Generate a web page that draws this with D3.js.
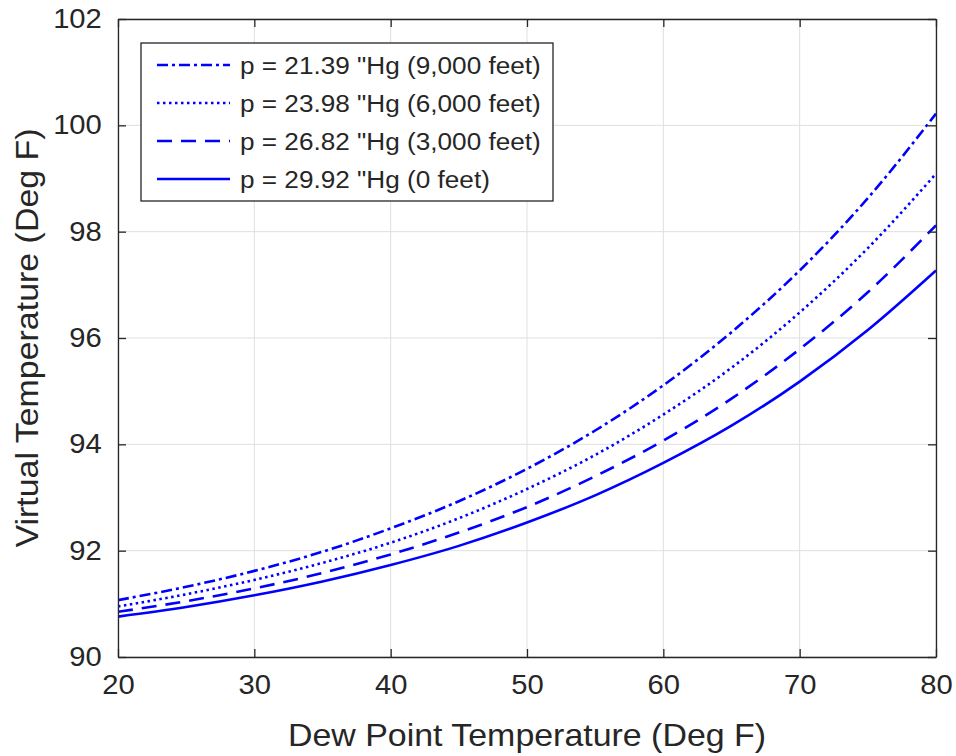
<!DOCTYPE html>
<html>
<head>
<meta charset="utf-8">
<script src="https://cdn.jsdelivr.net/npm/d3@7"></script>
<style>
  html, body { margin: 0; padding: 0; background: #ffffff; }
  svg { display: block; }
  text { font-family: "Liberation Sans", Arial, Helvetica, sans-serif; fill: #262626; }
</style>
</head>
<body>
<svg id="chart" width="956" height="756"></svg>
<script>
// ---- data ----
const dewPoint = [20, 25, 30, 35, 40, 45, 50, 55, 60, 65, 70, 75, 80];
const tv9000 = [91.07, 91.32, 91.62, 91.98, 92.42, 92.93, 93.54, 94.26, 95.11, 96.11, 97.27, 98.63, 100.22];
const tv6000 = [90.95, 91.18, 91.45, 91.77, 92.15, 92.61, 93.16, 93.80, 94.56, 95.44, 96.48, 97.69, 99.09];
const tv3000 = [90.85, 91.05, 91.29, 91.58, 91.93, 92.34, 92.82, 93.40, 94.07, 94.86, 95.79, 96.86, 98.12];
const tv0 = [90.76, 90.94, 91.16, 91.42, 91.73, 92.09, 92.53, 93.04, 93.65, 94.35, 95.18, 96.15, 97.27];
const seriesLabels = [
  'p = 21.39 "Hg (9,000 feet)',
  'p = 23.98 "Hg (6,000 feet)',
  'p = 26.82 "Hg (3,000 feet)',
  'p = 29.92 "Hg (0 feet)'
];
const xTicks = [20, 30, 40, 50, 60, 70, 80];
const yTicks = [90, 92, 94, 96, 98, 100, 102];
const xTitle = "Dew Point Temperature (Deg F)";
const yTitle = "Virtual Temperature (Deg F)";

// ---- layout ----
const svg = d3.select("#chart");
const L = 118, R = 936, T = 19, B = 657;
const x = d3.scaleLinear().domain([20, 80]).range([L, R]);
const y = d3.scaleLinear().domain([90, 102]).range([B, T]);
const axisColor = "#262626";
const blue = "#0000ff";
const dashes = ["11,4,3,4", "2.5,3.5", "15,9", null];
const series = [tv9000, tv6000, tv3000, tv0];
const stretch = 1.08;

// grid
const grid = svg.append("g");
grid.selectAll("line.gx").data(xTicks).join("line")
  .attr("x1", d => x(d)).attr("x2", d => x(d)).attr("y1", T).attr("y2", B)
  .attr("stroke", "#dfdfdf").attr("stroke-width", 1);
grid.selectAll("line.gy").data(yTicks).join("line")
  .attr("x1", L).attr("x2", R).attr("y1", d => y(d)).attr("y2", d => y(d))
  .attr("stroke", "#dfdfdf").attr("stroke-width", 1);

// clip
svg.append("clipPath").attr("id", "clip").append("rect")
  .attr("x", L).attr("y", T).attr("width", R - L).attr("height", B - T);

// lines
const line = d3.line().x(d => x(d[0])).y(d => y(d[1])).curve(d3.curveMonotoneX);
const lines = svg.append("g").attr("clip-path", "url(#clip)");
series.forEach((s, i) => {
  lines.append("path")
    .attr("d", line(dewPoint.map((d, j) => [d, s[j]])))
    .attr("fill", "none").attr("stroke", blue).attr("stroke-width", 2.6)
    .attr("stroke-dasharray", dashes[i]);
});

// axes (ticks inside, mirrored)
const tickLen = 8;
const fmt = d3.format("d");
const axB = svg.append("g").attr("transform", `translate(0,${B})`)
  .call(d3.axisBottom(x).tickValues(xTicks).tickSizeInner(-tickLen).tickSizeOuter(0).tickPadding(18).tickFormat(fmt));
const axT = svg.append("g").attr("transform", `translate(0,${T})`)
  .call(d3.axisTop(x).tickValues(xTicks).tickSizeInner(-tickLen).tickSizeOuter(0).tickFormat(""));
const axLf = svg.append("g").attr("transform", `translate(${L},0)`)
  .call(d3.axisLeft(y).tickValues(yTicks).tickSizeInner(-tickLen).tickSizeOuter(0).tickPadding(15).tickFormat(fmt));
const axRt = svg.append("g").attr("transform", `translate(${R},0)`)
  .call(d3.axisRight(y).tickValues(yTicks).tickSizeInner(-tickLen).tickSizeOuter(0).tickFormat(""));
[axB, axT, axLf, axRt].forEach(a => {
  a.select(".domain").attr("stroke", axisColor).attr("stroke-width", 1.3);
  a.selectAll(".tick line").attr("stroke", axisColor).attr("stroke-width", 1.3);
  a.selectAll(".tick text").attr("fill", axisColor).style("font-size", "27px")
   .style("font-family", '"Liberation Sans", Arial, sans-serif')
   .attr("transform", `scale(${stretch},1)`);
});
axB.selectAll(".tick text").attr("dy", "0.71em");

// axis titles
svg.append("text").attr("transform", `translate(${(L + R) / 2},746) scale(1.06,1)`)
  .attr("text-anchor", "middle").style("font-size", "32px").text(xTitle);
svg.append("text").attr("transform", `translate(38,${(T + B) / 2}) rotate(-90) scale(1.06,1)`)
  .attr("text-anchor", "middle").style("font-size", "32px").text(yTitle);

// legend
const lg = svg.append("g");
lg.append("rect").attr("x", 141).attr("y", 43).attr("width", 412).attr("height", 158)
  .attr("fill", "#ffffff").attr("stroke", axisColor).attr("stroke-width", 1.3);
const rowY = [65, 103, 141, 179];
seriesLabels.forEach((lab, i) => {
  lg.append("line").attr("x1", 157).attr("x2", 230).attr("y1", rowY[i]).attr("y2", rowY[i])
    .attr("stroke", blue).attr("stroke-width", 2.6).attr("stroke-dasharray", dashes[i]);
  lg.append("text").attr("transform", `translate(240,${rowY[i]}) scale(1.09,1)`).attr("dy", "0.36em")
    .style("font-size", "24px").text(lab);
});
</script>
</body>
</html>
